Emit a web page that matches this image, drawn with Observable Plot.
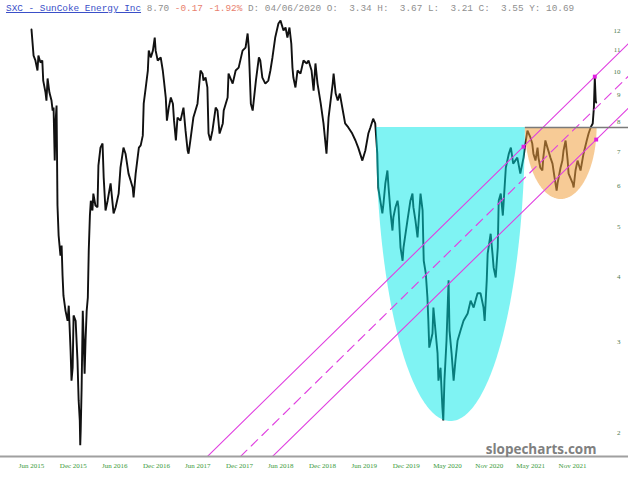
<!DOCTYPE html>
<html><head><meta charset="utf-8">
<script src="https://cdn.jsdelivr.net/npm/d3@7"></script>
<script src="https://cdn.jsdelivr.net/npm/@observablehq/plot@0.6"></script>
<style>
html,body{margin:0;padding:0;background:#fff;}
#wrap{position:relative;width:628px;height:480px;overflow:hidden;}
#hdr{position:absolute;left:6px;top:3px;font:9.4px "Liberation Mono",monospace;white-space:pre;color:#8f8f8f;line-height:12px;}
#hdr .t{color:#3a4fc8;text-decoration:underline;}
#hdr .n{color:#e8806e;}
</style></head><body>
<div id="wrap"><div id="chart"></div><div id="hdr"><span class="t">SXC - SunCoke Energy Inc</span> 8.70 <span class="n">-0.17 -1.92%</span> D: 04/06/2020 O:  3.34 H:  3.67 L:  3.21 C:  3.55 Y: 10.69</div></div>
<script>
const dates = ["2015-06-15","2015-06-24","2015-07-02","2015-07-11","2015-07-15","2015-07-24","2015-08-01","2015-08-05","2015-08-15","2015-08-19","2015-08-24","2015-09-01","2015-09-10","2015-09-15","2015-09-19","2015-09-24","2015-09-28","2015-10-02","2015-10-06","2015-10-11","2015-10-19","2015-10-24","2015-10-28","2015-11-01","2015-11-10","2015-11-19","2015-11-24","2015-12-02","2015-12-06","2015-12-11","2015-12-15","2015-12-24","2015-12-28","2016-01-01","2016-01-06","2016-01-11","2016-01-13","2016-01-15","2016-01-19","2016-01-24","2016-01-28","2016-02-01","2016-02-05","2016-02-10","2016-02-15","2016-02-19","2016-02-24","2016-02-28","2016-03-06","2016-03-10","2016-03-19","2016-03-28","2016-04-01","2016-04-10","2016-04-19","2016-04-24","2016-05-02","2016-05-11","2016-05-24","2016-06-06","2016-06-15","2016-06-28","2016-07-06","2016-07-19","2016-07-28","2016-08-10","2016-08-19","2016-08-28","2016-09-01","2016-09-10","2016-09-24","2016-10-02","2016-10-11","2016-10-15","2016-10-24","2016-11-02","2016-11-06","2016-11-15","2016-11-24","2016-12-02","2016-12-06","2016-12-15","2016-12-28","2017-01-06","2017-01-11","2017-01-19","2017-01-24","2017-02-01","2017-02-10","2017-02-19","2017-02-24","2017-03-04","2017-03-11","2017-03-24","2017-04-06","2017-04-15","2017-04-24","2017-04-28","2017-05-06","2017-05-19","2017-06-06","2017-06-19","2017-06-28","2017-07-02","2017-07-11","2017-07-19","2017-07-24","2017-08-01","2017-08-10","2017-08-24","2017-09-01","2017-09-10","2017-09-24","2017-09-28","2017-10-15","2017-10-19","2017-11-06","2017-11-19","2017-12-02","2017-12-19","2018-01-01","2018-01-10","2018-01-15","2018-01-24","2018-02-01","2018-02-15","2018-02-28","2018-03-06","2018-03-15","2018-03-28","2018-04-10","2018-04-19","2018-04-28","2018-05-10","2018-05-24","2018-06-02","2018-06-15","2018-06-24","2018-07-02","2018-07-11","2018-07-19","2018-07-24","2018-07-28","2018-08-06","2018-08-15","2018-08-28","2018-09-10","2018-09-24","2018-10-02","2018-10-15","2018-10-24","2018-11-01","2018-11-10","2018-11-24","2018-12-06","2018-12-19","2018-12-28","2019-01-15","2019-01-19","2019-01-28","2019-02-06","2019-02-15","2019-02-28","2019-03-10","2019-03-24","2019-04-10","2019-04-24","2019-05-06","2019-05-24","2019-06-06","2019-06-19","2019-06-28","2019-07-10","2019-07-19","2019-07-28","2019-08-01","2019-08-10","2019-08-19","2019-08-24","2019-09-01","2019-09-10","2019-09-15","2019-09-24","2019-10-02","2019-10-06","2019-10-15","2019-10-24","2019-10-28","2019-11-06","2019-11-15","2019-11-19","2019-12-06","2019-12-19","2019-12-28","2020-01-01","2020-01-10","2020-01-19","2020-01-24","2020-02-01","2020-02-10","2020-02-15","2020-02-24","2020-03-02","2020-03-06","2020-03-10","2020-03-24","2020-03-28","2020-04-06","2020-04-15","2020-04-19","2020-04-28","2020-05-06","2020-05-10","2020-05-15","2020-05-24","2020-06-02","2020-06-06","2020-06-15","2020-06-24","2020-07-02","2020-07-11","2020-07-24","2020-08-06","2020-08-24","2020-09-06","2020-09-19","2020-10-06","2020-10-19","2020-11-01","2020-11-06","2020-11-15","2020-11-19","2020-12-02","2020-12-10","2020-12-15","2020-12-24","2021-01-02","2021-01-06","2021-01-15","2021-01-24","2021-02-06","2021-02-19","2021-02-28","2021-03-10","2021-03-28","2021-04-10","2021-04-24","2021-05-02","2021-05-11","2021-05-24","2021-06-01","2021-06-06","2021-06-15","2021-06-24","2021-06-28","2021-07-06","2021-07-15","2021-07-19","2021-07-28","2021-08-06","2021-08-19","2021-08-28","2021-09-06","2021-09-15","2021-09-19","2021-10-02","2021-10-10","2021-10-15","2021-10-24","2021-11-02","2021-11-06","2021-11-24","2021-11-28","2021-12-06","2021-12-15","2021-12-28","2022-01-10","2022-01-24","2022-02-01","2022-02-10","2022-02-19","2022-02-24","2022-02-28","2022-03-04","2022-03-06"];
const close = [12.05,10.73,10.50,10.04,10.73,10.40,10.50,9.60,9.10,8.78,9.69,9.10,8.78,8.40,8.51,6.72,8.03,8.59,5.50,4.81,4.40,4.60,4.03,3.68,3.44,3.29,3.52,2.88,2.52,2.67,3.37,3.29,3.01,2.76,2.31,2.11,1.89,2.02,2.44,3.44,3.01,2.60,3.01,3.44,3.65,4.50,5.26,5.62,5.38,5.80,5.50,5.46,6.57,7.12,7.25,6.23,5.38,5.62,6.07,5.31,5.46,5.80,6.51,7.12,6.93,6.34,6.15,5.96,5.70,6.34,7.12,7.19,7.51,8.66,9.31,10.04,10.97,10.64,10.97,11.63,10.97,10.50,10.64,10.04,9.60,8.90,8.03,8.51,8.90,8.66,8.03,7.35,8.14,8.03,8.51,7.68,7.03,6.93,7.35,8.14,8.66,10.04,9.90,9.60,9.73,9.31,7.58,7.35,7.68,8.51,8.40,7.58,7.93,8.40,8.90,9.90,9.47,10.04,10.17,10.97,11.12,11.84,11.12,8.66,8.40,9.60,10.64,10.50,9.73,9.47,9.60,10.04,10.64,11.63,12.38,12.54,12.00,12.16,11.63,12.16,11.32,10.17,9.73,9.31,10.04,9.90,10.50,10.36,10.50,10.04,9.18,10.36,9.47,8.66,7.93,6.93,8.14,9.47,9.90,9.06,8.78,9.06,8.40,7.93,7.79,7.58,7.35,7.12,6.72,7.03,7.58,7.79,8.10,7.93,6.93,5.96,5.62,5.31,5.55,6.07,6.43,5.96,5.31,4.92,5.22,5.46,5.62,5.46,4.56,4.30,4.56,5.14,5.62,5.80,5.46,5.14,4.77,5.14,5.80,5.38,4.30,4.06,3.65,3.29,2.92,3.11,3.49,3.15,2.85,2.52,2.67,2.24,2.11,2.52,3.01,3.94,3.15,2.85,2.52,2.76,3.01,3.15,3.29,3.40,3.60,3.49,3.72,3.72,3.49,3.29,3.94,4.44,4.85,4.44,4.17,3.99,4.56,5.62,5.80,5.26,6.51,6.93,7.12,6.63,6.81,6.34,6.81,7.25,7.68,7.45,7.25,6.93,6.72,7.12,6.81,6.51,6.43,6.81,7.35,7.12,6.81,6.63,6.23,5.88,6.07,6.51,6.72,7.03,7.35,6.72,6.34,6.07,5.96,6.43,6.72,6.43,6.93,7.35,7.58,7.79,7.93,8.51,9.73,8.78,8.70];

// cup & handle (start date, end date, rim price, low price)
const cup = ["2019-07-24", "2021-05-02", 7.79, 2.10];
const handle = ["2021-05-02", "2022-03-10", 7.79, 5.65];
// channel lines: two anchor points each [date, price]
const chUpper = [["2017-07-19", 1.797], ["2022-02-28", 9.77]];
const chMiddle = [["2017-12-10", 1.797], ["2022-03-01", 8.46]];
const chLower = [["2018-04-28", 1.797], ["2022-03-06", 7.38]];
const markers = [["2021-04-24", 7.15], ["2022-02-28", 9.77], ["2022-03-06", 7.38]];
const xTicks = ["2015-06-15","2015-12-14","2016-06-11","2016-12-10","2017-06-07","2017-12-06","2018-06-03","2018-12-02","2019-06-01","2019-12-01","2020-05-28","2020-11-26","2021-05-25","2021-11-23"];
const yTicks = [2,3,4,5,6,7,8,9,10,11,12];

const prices = dates.map((d, i) => ({date: new Date(d), close: close[i]}));

function halfEllipse([s, e, top, low], n = 160) {
  const t0 = +new Date(s), t1 = +new Date(e), c = (t0 + t1) / 2, r = (t1 - t0) / 2;
  const lt = Math.log(top), lb = Math.log(low);
  return d3.range(n + 1).map(i => {
    const a = Math.PI * i / n;
    return {date: new Date(c - r * Math.cos(a)), top, low: Math.exp(lt - (lt - lb) * Math.sin(a))};
  });
}
function extend([[d1, p1], [d2, p2]], toDate) {
  const t1 = +new Date(d1), t2 = +new Date(d2);
  const k = (Math.log(p2) - Math.log(p1)) / (t2 - t1);
  return [d1, toDate].map(d => ({date: new Date(d), price: p1 * Math.exp(k * (+new Date(d) - t1))}));
}
const farRight = "2023-06-01";
const fmt = d3.utcFormat("%b %Y");
const magenta = "#e040e0";

const chart = Plot.plot({
  width: 628, height: 480,
  marginTop: 0, marginLeft: 0, marginRight: 0, marginBottom: 24,
  x: {type: "utc", domain: [new Date("2015-06-15"), new Date("2021-11-23")], range: [31, 572], axis: null},
  y: {type: "log", domain: [2, 12], range: [432, 30], axis: null},
  marks: [
    Plot.line(prices, {x: "date", y: "close", stroke: "#111", strokeWidth: 1.9, strokeLinejoin: "miter"}),
    Plot.areaY(halfEllipse(cup), {x: "date", y1: "top", y2: "low", fill: "#00e8e8", fillOpacity: 0.5}),
    Plot.areaY(halfEllipse(handle), {x: "date", y1: "top", y2: "low", fill: "#f0a040", fillOpacity: 0.55}),
    Plot.line(extend(chUpper, farRight), {x: "date", y: "price", stroke: magenta, strokeWidth: 1.1, clip: true}),
    Plot.line(extend(chMiddle, farRight), {x: "date", y: "price", stroke: magenta, strokeWidth: 1.1, strokeDasharray: "9,6", clip: true}),
    Plot.line(extend(chLower, farRight), {x: "date", y: "price", stroke: magenta, strokeWidth: 1.1, clip: true}),
    Plot.ruleY([{y: handle[2], x1: new Date(handle[0]), x2: new Date(farRight)}], {y: "y", x1: "x1", x2: "x2", stroke: "#7a7a7a", strokeWidth: 1.5, clip: true}),
    Plot.dot(markers, {x: d => new Date(d[0]), y: d => d[1], symbol: "square", r: 2.2, fill: "#e020e0", stroke: "none"}),
    Plot.frame({anchor: "bottom", stroke: "#a0a0a0", strokeWidth: 2}),
    Plot.text(xTicks, {x: d => new Date(d), frameAnchor: "bottom", dy: 11, text: d => fmt(new Date(d)), fontSize: 7, fontFamily: "Liberation Serif", fill: "#3a9a3a"}),
    Plot.text(yTicks, {y: d => d, frameAnchor: "right", dx: -8, text: d => String(d), fontSize: 7, fontFamily: "Liberation Serif", fill: "#4d7a4d"}),
    Plot.text(["slopecharts.com"], {frameAnchor: "bottom-right", dx: -32, dy: -3, textAnchor: "end", lineAnchor: "bottom", fontSize: 13.5, fontWeight: "bold", fontFamily: "Open Sans", fill: "#808080"})
  ]
});
document.getElementById("chart").appendChild(chart);
</script>
</body></html>
